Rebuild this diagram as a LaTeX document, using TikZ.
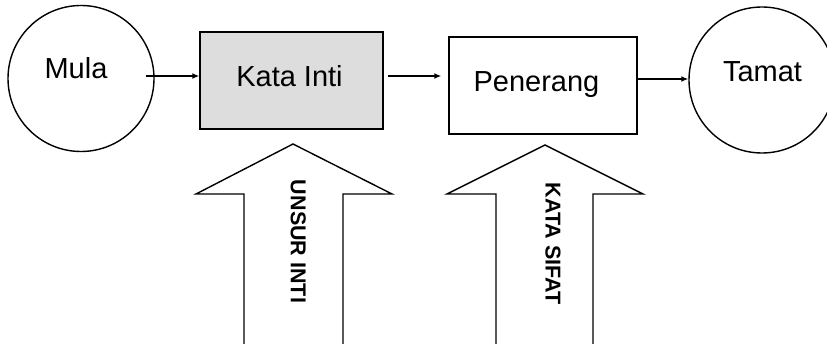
\documentclass[tikz,border=0pt]{standalone}
\usepackage{fontspec}
\setmainfont{Liberation Sans}
\usetikzlibrary{arrows.meta}
\begin{document}
\begin{tikzpicture}[x=1pt,y=-1pt,
  line width=1.4pt,
  endcircle/.style={draw,circle,minimum size=146pt,inner sep=0pt},
  wordbox/.style={draw,rectangle,minimum width=#1,minimum height=97pt,inner sep=0pt},
  lbl/.style={inner sep=0pt,font=\fontsize{29}{34}\selectfont},
  vlbl/.style={inner sep=0pt,rotate=-90,font=\fontsize{21.5}{26}\selectfont\bfseries},
  arr/.style={-{Latex[length=7pt,width=6pt]}},
  bigarrow/.style={draw,line join=miter}
]
\useasboundingbox (0,0) rectangle (827,344);
\clip (0,0) rectangle (827,344);
% nodes
\node[endcircle] (mula) at (81,78.5) {};
\node[endcircle] (tamat) at (762,80) {};
\node[wordbox=183pt,fill={rgb,255:red,221;green,221;blue,221}] (kata) at (291.5,80.5) {};
\node[wordbox=188pt] (pen) at (543,85.5) {};
\node[lbl,anchor=base] (mulat) at (76,79) {Mula};
\node[lbl,anchor=base] (katat) at (289.5,86.7) {Kata Inti};
\node[lbl,anchor=base] (pent) at (536.5,91.7) {Penerang};
\node[lbl,anchor=base] (tamatt) at (762.5,81.7) {Tamat};
% connectors
\draw[arr] ([xshift=-9pt,yshift=2.5pt]mula.east) -- ([yshift=4.5pt]kata.west);
\draw[arr] ([xshift=4pt,yshift=4.5pt]kata.east) -- ([xshift=-7pt,yshift=9.5pt]pen.west);
\draw[arr] ([yshift=6.5pt]pen.east) -- ([yshift=1pt]tamat.west);
% big up arrows
\draw[bigarrow] (244,350) -- (244,194) -- (196,194) -- (293,144) -- (392,194) -- (343,194) -- (343,350);
\draw[bigarrow] (496,350) -- (496,194) -- (447,194) -- (545,145) -- (643,194) -- (593,194) -- (593,350);
\node[vlbl] (unsur) at (298.3,241.5) {UNSUR INTI};
\node[vlbl] (sifat) at (553,243.5) {KATA SIFAT};
\end{tikzpicture}
\end{document}
